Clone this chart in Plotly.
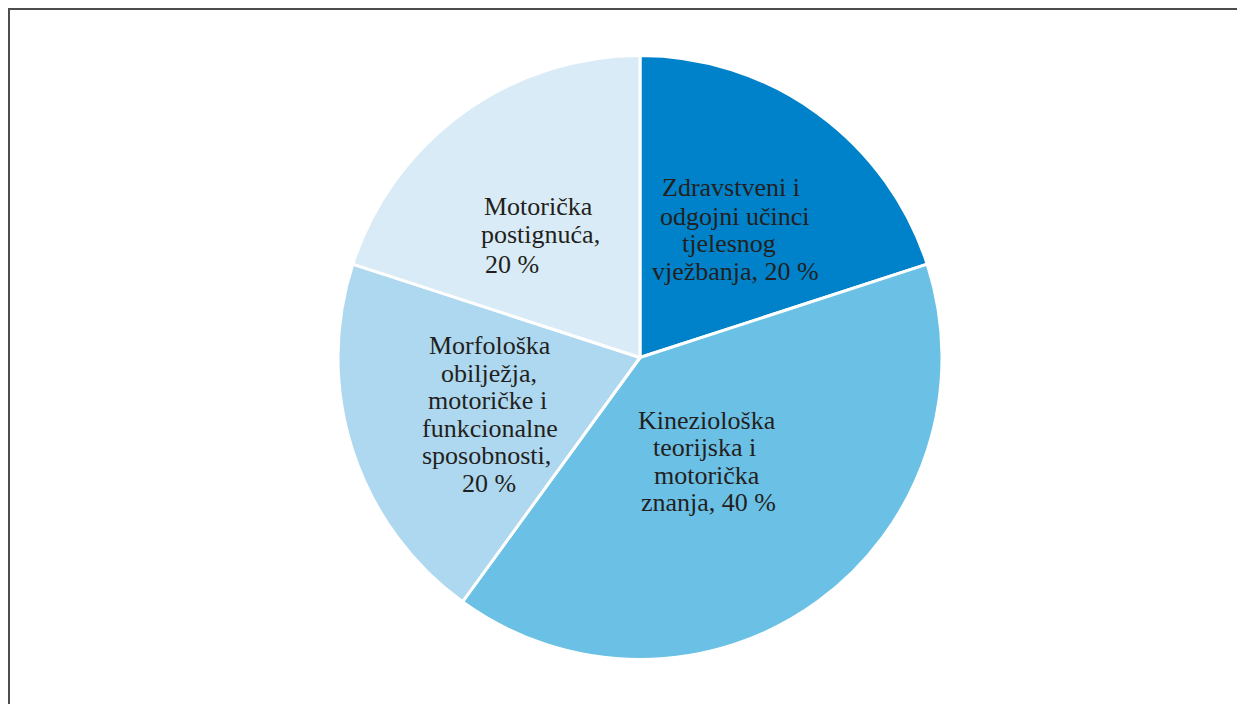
import plotly.graph_objects as go

# Slice data (clockwise from 12 o'clock)
slice_names = [
    "Zdravstveni i odgojni učinci tjelesnog vježbanja",
    "Kineziološka teorijska i motorička znanja",
    "Morfološka obilježja, motoričke i funkcionalne sposobnosti",
    "Motorička postignuća",
]
values = [20, 40, 20, 20]
colors = ["#0082CA", "#6BC0E5", "#AED8EF", "#D9EBF6"]

# Label text lines per slice
label_lines = [
    ["Zdravstveni i", "odgojni učinci", "tjelesnog", "vježbanja, 20 %"],
    ["Kineziološka", "teorijska i", "motorička", "znanja, 40 %"],
    ["Morfološka", "obilježja,", "motoričke i", "funkcionalne", "sposobnosti,", "20 %"],
    ["Motorička", "postignuća,", "20 %"],
]

# page offset (browser body margin)
OFF = 8
W, H = 1245 - OFF, 704 - OFF

def px(x):
    return (x - OFF) / W

def py(y):
    return 1 - (y - OFF) / H

fig = go.Figure(go.Pie(
    labels=slice_names,
    values=values,
    sort=False,
    direction="clockwise",
    rotation=0,
    textinfo="none",
    hoverinfo="skip",
    marker=dict(colors=colors, line=dict(color="white", width=3)),
    domain=dict(x=[px(338), px(942)], y=[py(660), py(55)]),
    showlegend=False,
))

# line positions: (left x, center y) in reference pixels
line_pos = [
    [(660, 188), (658, 216), (680, 243), (650, 271)],
    [(636, 420), (651, 447), (652, 475), (639, 502)],
    [(427, 345), (439, 373), (426, 400), (420, 428), (420, 455), (460, 483)],
    [(482, 206), (479, 235), (483, 264)],
]

annotations = []
for lines, poss in zip(label_lines, line_pos):
    for text, (lx, ly) in zip(lines, poss):
        annotations.append(dict(
            x=px(lx), y=py(ly), xref="paper", yref="paper",
            text=text, showarrow=False, align="left",
            xanchor="left", yanchor="middle",
            font=dict(family="Liberation Serif", size=26, color="#231F20"),
        ))

frame = dict(color="#4D4D4D", width=2)
shapes = [
    dict(type="line", xref="paper", yref="paper", x0=px(9), x1=px(9), y0=-0.02, y1=py(8.5), line=frame),
    dict(type="line", xref="paper", yref="paper", x0=px(8), x1=1.01, y0=py(9), y1=py(9), line=frame),
]

fig.update_layout(
    width=W, height=H,
    margin=dict(l=0, r=0, t=0, b=0),
    paper_bgcolor="white", plot_bgcolor="white",
    annotations=annotations, shapes=shapes,
)

fig.write_html("out.html")
